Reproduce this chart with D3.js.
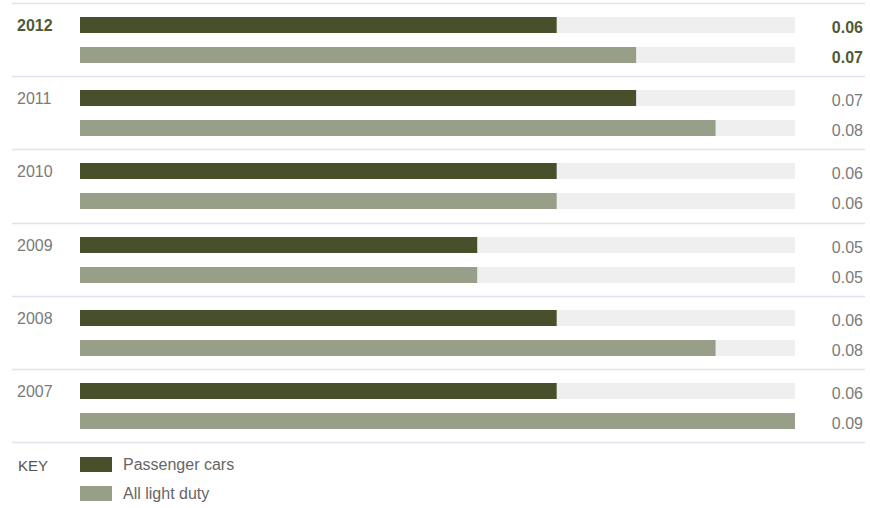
<!DOCTYPE html>
<html>
<head>
<meta charset="utf-8">
<script src="https://cdn.jsdelivr.net/npm/d3@7"></script>
<style>
	body { margin: 0; background: #fff; }
	svg { display: block; font-family: "Liberation Sans", Arimo, Arial, Helvetica, sans-serif; }
</style>
</head>
<body>
<svg id="chart"></svg>
<script>
// chart data
const years = [ '2012', '2011', '2010', '2009', '2008', '2007' ];
const seriesNames = [ 'Passenger cars', 'All light duty' ];
const passengerCars = [ 0.06, 0.07, 0.06, 0.05, 0.06, 0.06 ];
const allLightDuty = [ 0.07, 0.08, 0.06, 0.05, 0.08, 0.09 ];
const highlightYear = '2012';

const config = {
	width: 870,
	height: 508,
	left: 12,
	right: 865,
	top: 3,
	rowsBottom: 442,
	barX0: 80,
	barX1: 795,
	barH: 16,
	colors: [ '#47502b', '#989f88' ],
	track: '#efefef',
	rule: '#dfe4ec',
	text: '#7a7a7a',
	highlight: '#4f5a33',
};

const rows = years.map( ( year, i ) => ( {
	year,
	values: [ passengerCars[ i ], allLightDuty[ i ] ],
} ) );

const svg = d3.select( '#chart' )
	.attr( 'width', config.width )
	.attr( 'height', config.height );

const yRow = d3.scaleBand()
	.domain( years )
	.range( [ config.top, config.rowsBottom ] );

const x = d3.scaleLinear()
	.domain( [ 0, 0.09 ] )
	.range( [ config.barX0, config.barX1 ] );

// offsets of the two bars inside a row
const ySeries = d3.scalePoint()
	.domain( [ 0, 1 ] )
	.range( [ 14, 44 ] );

// separator rules
const rules = years.concat( [ 'end' ] );
svg.selectAll( 'line.rule' )
	.data( rules )
	.enter()
	.append( 'line' )
	.attr( 'class', 'rule' )
	.attr( 'x1', config.left )
	.attr( 'x2', config.right )
	.attr( 'y1', ( d ) => Math.round( d === 'end' ? config.rowsBottom : yRow( d ) ) + 0.5 )
	.attr( 'y2', ( d ) => Math.round( d === 'end' ? config.rowsBottom : yRow( d ) ) + 0.5 )
	.attr( 'stroke', config.rule )
	.attr( 'stroke-width', 1.5 );

const row = svg.selectAll( 'g.row' )
	.data( rows )
	.enter()
	.append( 'g' )
	.attr( 'class', 'row' )
	.attr( 'transform', ( d ) => `translate(0,${ Math.round( yRow( d.year ) ) })` );

row.append( 'text' )
	.attr( 'x', 17 )
	.attr( 'y', 28 )
	.attr( 'font-size', 16 )
	.attr( 'font-weight', ( d ) => d.year === highlightYear ? 'bold' : 'normal' )
	.attr( 'fill', ( d ) => d.year === highlightYear ? config.highlight : config.text )
	.text( ( d ) => d.year );

const bar = row.selectAll( 'g.bar' )
	.data( ( d ) => d.values.map( ( v, i ) => ( { v, i, year: d.year } ) ) )
	.enter()
	.append( 'g' )
	.attr( 'class', 'bar' )
	.attr( 'transform', ( d ) => `translate(0,${ ySeries( d.i ) })` );

// grey track behind each bar
bar.append( 'rect' )
	.attr( 'x', x( 0 ) )
	.attr( 'y', 0 )
	.attr( 'width', x( 0.09 ) - x( 0 ) )
	.attr( 'height', config.barH )
	.attr( 'fill', config.track );

bar.append( 'rect' )
	.attr( 'x', x( 0 ) )
	.attr( 'y', 0 )
	.attr( 'width', ( d ) => x( d.v ) - x( 0 ) )
	.attr( 'height', config.barH )
	.attr( 'fill', ( d ) => config.colors[ d.i ] );

bar.append( 'text' )
	.attr( 'x', 863 )
	.attr( 'y', 16 )
	.attr( 'text-anchor', 'end' )
	.attr( 'font-size', 16 )
	.attr( 'font-weight', ( d ) => d.year === highlightYear ? 'bold' : 'normal' )
	.attr( 'fill', ( d ) => d.year === highlightYear ? config.highlight : config.text )
	.text( ( d ) => d3.format( '.2f' )( d.v ) );

// key
const key = svg.append( 'g' )
	.attr( 'transform', `translate(0,${ config.rowsBottom })` );

key.append( 'text' )
	.attr( 'x', 18 )
	.attr( 'y', 29 )
	.attr( 'font-size', 15 )
	.attr( 'fill', '#555' )
	.text( 'KEY' );

const keyItem = key.selectAll( 'g.key-item' )
	.data( seriesNames )
	.enter()
	.append( 'g' )
	.attr( 'class', 'key-item' )
	.attr( 'transform', ( d, i ) => `translate(80,${ 15 + i * 29 })` );

keyItem.append( 'rect' )
	.attr( 'width', 32 )
	.attr( 'height', 15 )
	.attr( 'fill', ( d, i ) => config.colors[ i ] );

keyItem.append( 'text' )
	.attr( 'x', 43 )
	.attr( 'y', 13 )
	.attr( 'font-size', 16 )
	.attr( 'fill', '#666' )
	.text( ( d ) => d );
</script>
</body>
</html>
